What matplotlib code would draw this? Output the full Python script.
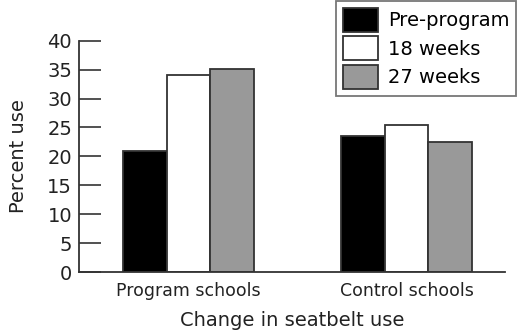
import matplotlib
matplotlib.use("Agg")
import matplotlib.pyplot as plt
import numpy as np

categories = ["Program schools", "Control schools"]
series_names = ["Pre-program", "18 weeks", "27 weeks"]
pre_program = [21.0, 23.5]
weeks_18 = [34.1, 25.4]
weeks_27 = [35.1, 22.5]
yticks = [0, 5, 10, 15, 20, 25, 30, 35, 40]

fill_colors = ["#000000", "#ffffff", "#999999"]
edge = "#333333"

plt.rcParams['font.family'] = ['DejaVu Sans']

fig = plt.figure(figsize=(5.21, 3.30), dpi=100)
ax = fig.add_axes([79/521, 1-272/330, (505-79)/521, (272-40.7)/330])

x = np.arange(len(categories))
w = 0.2
for i, (vals, c, name) in enumerate(zip([pre_program, weeks_18, weeks_27], fill_colors, series_names)):
    ax.bar(x + (i-1)*w, vals, width=w, color=c, edgecolor=edge, linewidth=1.3, label=name)

ax.set_xlim(-0.502, 1.452)
ax.set_ylim(0, 40)
ax.set_yticks(yticks)
ax.set_xticks(x)
ax.set_xticklabels(categories, fontsize=12.5, color="#222222")
ax.tick_params(axis='x', length=0, pad=7)
ax.tick_params(axis='y', direction='in', length=16, width=1.2, color=edge, labelsize=14, labelcolor="#222222", pad=5)
for s in ["top", "right"]:
    ax.spines[s].set_visible(False)
for s in ["left", "bottom"]:
    ax.spines[s].set_color(edge)
    ax.spines[s].set_linewidth(1.3)
ax.set_xlabel("Change in seatbelt use", fontsize=14, color="#222222", labelpad=8)
ax.set_ylabel("Percent use", fontsize=14, color="#222222", labelpad=14)

leg = fig.legend(loc="upper right", bbox_to_anchor=(516/521, 1-1/330), fontsize=14,
                 frameon=True, fancybox=False, edgecolor="#555555", handlelength=1.8,
                 handleheight=1.5, labelspacing=0.25, borderpad=0.35, handletextpad=0.5,
                 borderaxespad=0)
leg.get_frame().set_linewidth(1.3)

fig.savefig("out.png", dpi=100)
